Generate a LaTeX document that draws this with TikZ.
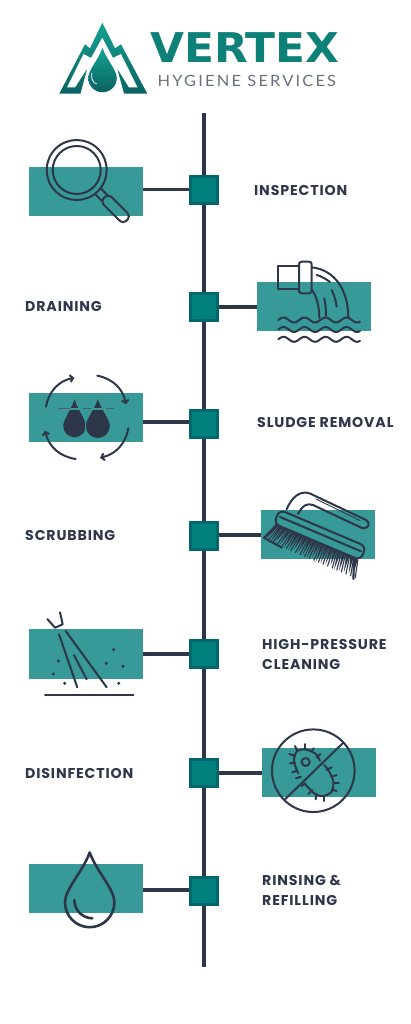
\documentclass[tikz,border=0pt]{standalone}
\usepackage{fontspec}
\setmainfont{Poppins}
\newfontfamily\tagline[LetterSpace=14,FakeStretch=1.06]{Lato}
\newfontfamily\steps[LetterSpace=6]{Poppins}
\newfontfamily\brandface[FakeStretch=1.07]{DejaVu Sans}
\usetikzlibrary{arrows.meta}
\definecolor{cink}{RGB}{46,54,73}
\definecolor{cpanel}{RGB}{55,154,152}
\definecolor{cbox}{RGB}{0,127,124}
\definecolor{cedge}{RGB}{0,103,108}
\definecolor{cteal}{RGB}{13,128,120}
\definecolor{clight}{RGB}{20,162,146}
\definecolor{cdeep}{RGB}{10,98,98}
\definecolor{cgrey}{RGB}{107,112,128}
\tikzset{
  vertex/.style={x=1pt,y=-1pt},
  stepbox/.style={draw=cedge,line width=3pt,fill=cbox,minimum size=27pt,inner sep=0pt},
  panel/.style={fill=cpanel,minimum width=114pt,minimum height=49.5pt,inner sep=0pt},
  link/.style={cink,line width=3.6pt},
  icon/.style={cink,line width=2pt,line join=round,line cap=round},
  turn/.style={icon,-{Straight Barb[length=3pt,width=7pt]}},
  wordmark/.style={anchor=base west,inner sep=0pt,text depth=0pt},
  label/.style={cink,anchor=west,inner sep=0pt,font=\steps\bfseries\fontsize{14.2}{16}\selectfont}
}
% droplet outline: centre x, centre y, radius, apex height
\newcommand{\dropath}[4]{(#1,{#2-#4}) .. controls ({#1+.3*#3},{#2-.6*#4}) and ({#1+#3},{#2-.55*#3}) .. ({#1+#3},#2) .. controls ({#1+#3},{#2+.55*#3}) and ({#1+.55*#3},{#2+#3}) .. (#1,{#2+#3}) .. controls ({#1-.55*#3},{#2+#3}) and ({#1-#3},{#2+.55*#3}) .. ({#1-#3},#2) .. controls ({#1-#3},{#2-.55*#3}) and ({#1-.3*#3},{#2-.6*#4}) .. cycle}

\begin{document}
\begin{tikzpicture}[vertex]
    \useasboundingbox (0,0) rectangle (410,1024);
    % logo
    \shade[top color=clight,bottom color=cdeep]
      (59.3,93.7) -- (85,44.3) -- (90,48.3) -- (102.3,22.7) -- (115,48.3) -- (121,44.3) -- (147.3,93.7) -- cycle;
    \fill[white] (102.3,37.7) -- (113,58) -- (121,54) -- (137.5,87.5) -- (129,87.5) -- (117,68) -- (124,93.8)
      -- (80.5,93.8) -- (87.5,68) -- (75,87.5) -- (67,87.5) -- (83.5,54) -- (91,58) -- cycle;
    \shade[top color=clight,bottom color=cdeep] \dropath{102.5}{78}{14.3}{30};
    \draw[white,line width=.8pt] (91.7,73) .. controls (91,79) and (93,83) .. (96.7,84);
    \node (brand) [wordmark,text=cteal,font=\brandface\bfseries\fontsize{41}{42}\selectfont] at (150,63) {VERTEX};
    \node (tagline) [wordmark,text=cgrey,font=\tagline\fontsize{15.5}{18}\selectfont] at (157.5,87) {HYGIENE SERVICES};
    % timeline
    \coordinate (top) at (204,113);
    \coordinate (bot) at (204,967);
    \draw[link] (top) -- (bot);
    \foreach \i/\x/\y/\sy/\ly/\a in {1/86.2/191.7/190.5/189.7/east,2/314/306.5/307/307/west,3/86.2/417.5/423.5/421.7/east,4/318/534.5/536/534.7/west,5/86.2/654/654/654/east,6/319/772.5/773/772.7/west,7/86.2/888.5/891/890/east} {
      \node (pn\i) [panel] at (\x,\y) {};
      \coordinate (jn\i) at (204,\ly);
      \draw[link] (jn\i) -- (jn\i -| pn\i.\a);
      \node (sq\i) [stepbox] at (204,\sy) {};
    }
    % labels
    \node (t1) [label] at (254,190) {INSPECTION};
    \node (t2) [label] at (25,306.5) {DRAINING};
    \node (t3) [label] at (257,422) {SLUDGE REMOVAL};
    \node (t4) [label] at (25,535) {SCRUBBING};
    \node (t5) [label] at (262,644) {HIGH-PRESSURE};
    \node (t6) [label] at (262,664) {CLEANING};
    \node (t7) [label] at (25,773) {DISINFECTION};
    \node (t8) [label] at (262,880) {RINSING \&};
    \node (t9) [label] at (262,900) {REFILLING};
    % magnifier
    \begin{scope}[shift={(76.7,170)},rotate=-45]
      \draw[icon] (0,0) circle (30);
      \draw[icon] (0,0) circle (24);
      \draw[icon] (30,-4) -- (39,-4) (30,4) -- (39,4);
      \draw[icon,rounded corners=4.5pt] (39,-5.5) -- (71,-5.5) -- (71,5.5) -- (39,5.5) -- cycle;
    \end{scope}
    % pipe and waves
    \draw[icon] (298.3,265.7) -- (278.3,265.7) -- (278.3,289.3) -- (298.3,289.3);
    \draw[icon,rounded corners=2.5pt] (299,261.7) rectangle (311.7,293.3);
    \draw[icon] (311.7,267.3) .. controls (335,270) and (348.3,290) .. (348.3,318);
    \draw[icon] (311.7,290) .. controls (316,295) and (319.3,305) .. (319.3,318);
    \draw[icon] (316.7,275) .. controls (321,276) and (326,279) .. (330,282);
    \draw[icon] (331.7,290) .. controls (334,295) and (336,301) .. (336.7,306.7);
    \draw[icon] (324.3,298.3) .. controls (325.5,304) and (326,310) .. (326,316);
    \foreach \w in {320,329.5,339.3}
      \draw[icon] plot[domain=0:81.7,samples=70,smooth] ({\x+278.3},{\w-2.5*sin(\x/21*360)});
    % sludge
    \draw[turn] (46,406.7) to[bend left=34] (74.3,377.7);
    \draw[turn] (97.3,375.7) to[bend left=34] (126,404.3);
    \draw[turn] (128.3,428.3) to[bend left=34] (100,457.7);
    \draw[turn] (75.7,459) to[bend left=34] (45,430.7);
    \fill[cink] \dropath{74.5}{426}{11.3}{26.7};
    \fill[cink] \dropath{97.8}{426}{12}{26.7};
    \draw[cpanel,line width=.8pt] (85.7,420) -- (85.7,432);
    \draw[cpanel,line width=1.6pt] (68,408.7) -- (104,408.7);
    \draw[cgrey!80!black,line width=1.5pt] (58.3,408.7) -- (70,408.7) (82.7,408.7) -- (90.7,408.7) (106,408.7) -- (114.3,408.7);
    % brush
    \begin{scope}[shift={(320,535)},rotate=-23]
      \foreach \b in {-50,-45,...,45} {
        \fill[cink] ({\b*.9},7) -- ({\b*.9+3.6},7) -- ({\b+1.5},{24+mod(abs(\b)*7,4)}) -- cycle;
        \draw[cink,line width=1.1pt] ({\b*.9+4},8) -- ({\b+4.2},26);
      }
      \draw[icon] (-44,7.5) -- (-50.5,24.5) -- (-30,26.5);
      \draw[icon] (40,7.5) -- (48,27.5);
      \draw[icon,rounded corners=6pt] (-47,-7.5) rectangle (47,7.5);
      \draw[icon] (-44,-1) -- (44,-1);
    \end{scope}
    \draw[icon] (286.5,509.5) .. controls (292,497) and (300,490) .. (310,493.5) -- (366,520) .. controls (371,523) and (369,529) .. (362,528) -- (313,505) .. controls (307,503) and (303,505) .. (298,514);
    \draw[icon,line width=.9pt] (316,499) -- (360,520.5);
    % spray
    \draw[icon] (47.3,619) -- (55,627.7) -- (62.7,624.3) -- (60,612.3);
    \draw[icon] (59,634.3) -- (77.3,687.3);
    \draw[icon] (65.7,631) -- (106.7,687.3);
    \draw[icon] (74,655) -- (86.7,679.3);
    \draw[icon] (45,695.3) -- (133.3,695.3);
    \foreach \px/\py in {58.3/661,53.3/674,64.7/683.3,113.7/649.7,106.3/663.3,123/666.3,118.7/683.3}
      \fill[cink] (\px,\py) circle (1.7);
    % germ
    \draw[icon] (313.3,770.7) circle (41.3);
    \draw[icon] (343.3,742.7) -- (285,799.3);
    \begin{scope}[shift={(190,720)},scale=.3333]
      \draw[icon] plot[smooth] coordinates {(325,160) (312,125) (320,95) (345,88) (375,100) (390,122)};
      \draw[icon] plot[smooth] coordinates {(402,135) (415,150) (430,185) (425,215) (400,228) (375,222) (345,192)};
      \foreach \ax/\ay/\bx/\by in {345/72/345/88,372/85/362/95,392/102/380/112,315/78/322/92,298/102/315/108,300/130/315/128,307/157/322/152,318/175/333/170,335/198/346/190,355/222/367/210,377/238/380/222,402/243/402/228,440/213/425/208,447/190/431/190,440/165/425/170,425/142/410/150}
        \draw[icon] (\ax,\ay) -- (\bx,\by);
      \draw[icon] (347,126) circle (12);
    \end{scope}
    % rinse drop
    \draw[icon,line width=2.6pt] \dropath{89.7}{902.5}{24.7}{50};
    \draw[icon,line width=2.6pt] (74.3,900) .. controls (74.5,910) and (82,918) .. (92.3,918.3);
\end{tikzpicture}
\end{document}
